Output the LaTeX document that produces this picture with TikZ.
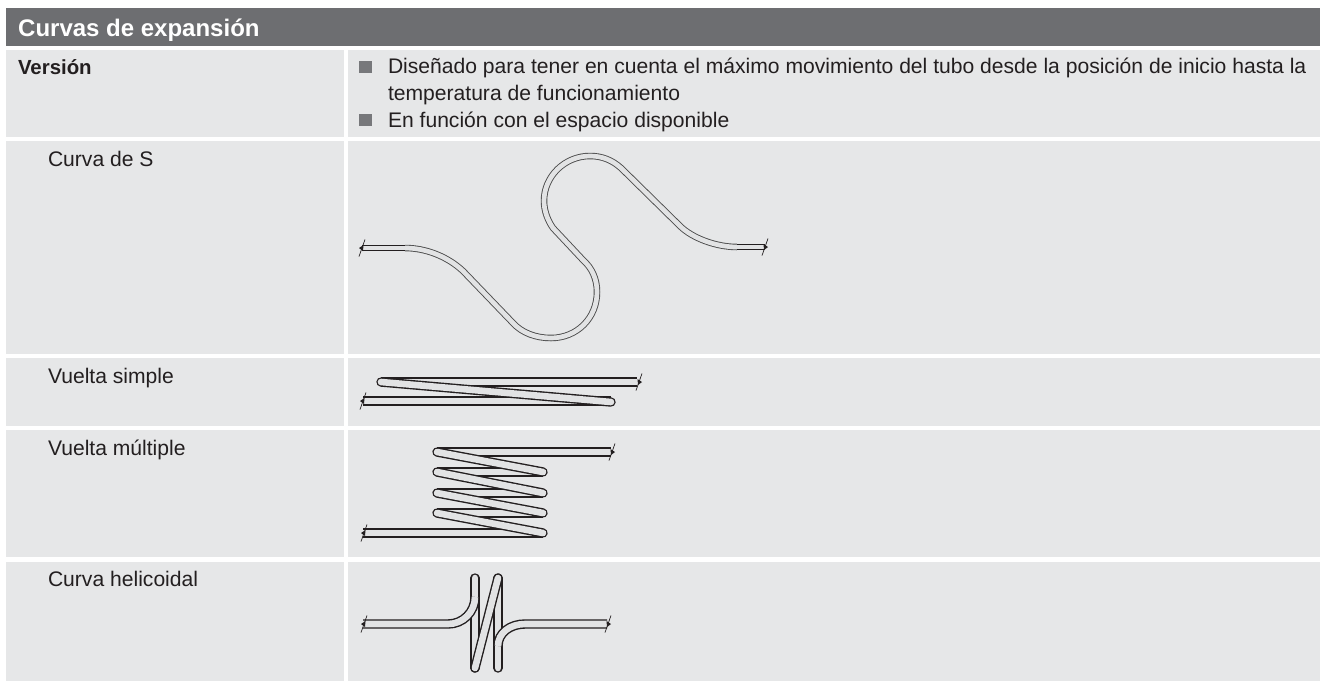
\documentclass[tikz,border=0pt]{standalone}
\usepackage{fontspec}
\setmainfont{Liberation Sans}
\definecolor{headgrey}{HTML}{6D6E71}
\definecolor{cellgrey}{HTML}{E6E7E8}
\definecolor{bulletgrey}{HTML}{77787B}
\definecolor{inktext}{HTML}{231F20}
\definecolor{tubefill}{HTML}{E2E3E4}
\tikzset{
  cell/.style={fill=cellgrey,draw=none},
  txt/.style={anchor=base west,inner sep=0pt,outer sep=0pt,text=inktext,font=\fontsize{21.1pt}{26pt}\selectfont},
  boldtxt/.style={txt,font=\fontsize{20.4pt}{26pt}\selectfont\bfseries},
  headtxt/.style={anchor=base west,inner sep=0pt,text=white,font=\fontsize{24pt}{28pt}\selectfont\bfseries},
  tube/.style={draw=inktext,line width=1.4pt,double=tubefill,double distance=6.6pt,line join=round},
  thintube/.style={draw=black!70,line width=0.9pt,double=tubefill,double distance=4.7pt,line join=round},
  endtube/.style={draw=inktext,line width=1.4pt,double=tubefill,double distance=3.6pt},
  roundtube/.style={tube,line cap=round},
  cut/.style={draw=inktext,line width=0.7pt},
}
\newcommand{\cutmark}[2]{%
  \draw[cut] (#1-3,#2+8.5) -- (#1+3,#2-8.5);
  \fill[inktext] (#1-3,#2) -- (#1+1.5,#2-3) -- (#1+1,#2+3) -- cycle;
}
\newcommand{\cutmarkr}[2]{%
  \draw[cut] (#1-3,#2+8.5) -- (#1+3,#2-8.5);
  \fill[inktext] (#1+3,#2) -- (#1-1.5,#2-3) -- (#1-1,#2+3) -- cycle;
}
\begin{document}
\begin{tikzpicture}[x=1pt,y=-1pt]
\useasboundingbox (0,0) rectangle (1320,681);
\fill[white] (0,0) rectangle (1320,681);
% table
\fill[headgrey] (6,8) rectangle (1320,45.5);
\fill[cell] (6,49.5) rectangle (344,137);
\fill[cell] (348,49.5) rectangle (1320,137);
\fill[cell] (6,141) rectangle (344,354);
\fill[cell] (348,141) rectangle (1320,354);
\fill[cell] (6,358) rectangle (344,426);
\fill[cell] (348,358) rectangle (1320,426);
\fill[cell] (6,430) rectangle (344,557);
\fill[cell] (348,430) rectangle (1320,557);
\fill[cell] (6,562) rectangle (344,681);
\fill[cell] (348,562) rectangle (1320,681);
% texts
\node[headtxt] (title) at (18,36) {Curvas de expansión};
\node[boldtxt] (version) at (18,74) {Versión};
\fill[bulletgrey] (359,61) rectangle (372,73);
\fill[bulletgrey] (359,114) rectangle (372,126);
\node[txt] (b1a) at (388,73.5) {Diseñado para tener en cuenta el máximo movimiento del tubo desde la posición de inicio hasta la};
\node[txt] (b1b) at (388,100.5) {temperatura de funcionamiento};
\node[txt] (b2) at (388,127.5) {En función con el espacio disponible};
\node[txt] (l1) at (48,166) {Curva de S};
\node[txt] (l2) at (48,383) {Vuelta simple};
\node[txt] (l3) at (48,455) {Vuelta múltiple};
\node[txt] (l4) at (48,586) {Curva helicoidal};
% S curve
\draw[thintube] (405,248)
  .. controls (425,248) and (447,256) .. (463,271)
  -- (513,323)
  .. controls (522,333) and (536,338) .. (551,338)
  .. controls (577,338) and (597,318) .. (597,292)
  .. controls (597,279) and (592,268) .. (583,260)
  -- (553,228)
  .. controls (548,221) and (544,211) .. (544,201)
  .. controls (544,176) and (565,156) .. (590,156)
  .. controls (602,156) and (612,160) .. (621,168)
  -- (680,226)
  .. controls (692,238) and (716,247) .. (737,247);
\draw[endtube] (362,248) -- (405,248);
\draw[endtube] (737,247) -- (765,247);
\cutmark{362}{248}
\cutmarkr{765}{247}
% simple turn
\draw[tube] (363,401) -- (611,401);
\draw[tube] (381,382) -- (637,382);
\draw[roundtube] (381,382) -- (611,402);
\cutmark{363}{401}
\cutmarkr{639}{382}
% multiple turn
\draw[tube] (437,452) -- (611,452);
\draw[tube] (437,472) -- (543,472);
\draw[tube] (437,493) -- (543,493);
\draw[tube] (437,513) -- (543,513);
\draw[tube] (363,533) -- (543,533);
\draw[roundtube] (437,452) -- (543,472);
\draw[roundtube] (437,472) -- (543,493);
\draw[roundtube] (437,493) -- (543,513);
\draw[roundtube] (437,513) -- (543,533);
\cutmark{364}{533}
\cutmarkr{612}{452}
% helical
\draw[roundtube] (475,578) -- (475,668);
\draw[roundtube] (498,578) -- (498,668);
\draw[roundtube] (475,668) -- (498,578);
\draw[tube] (363,624) -- (448,624) .. controls (463,624) and (475,612) .. (475,597);
\draw[tube] (498,646) .. controls (498,633) and (510,624) .. (525,624) -- (607,624);
\cutmark{364}{624}
\cutmarkr{608}{624}
\end{tikzpicture}
\end{document}
